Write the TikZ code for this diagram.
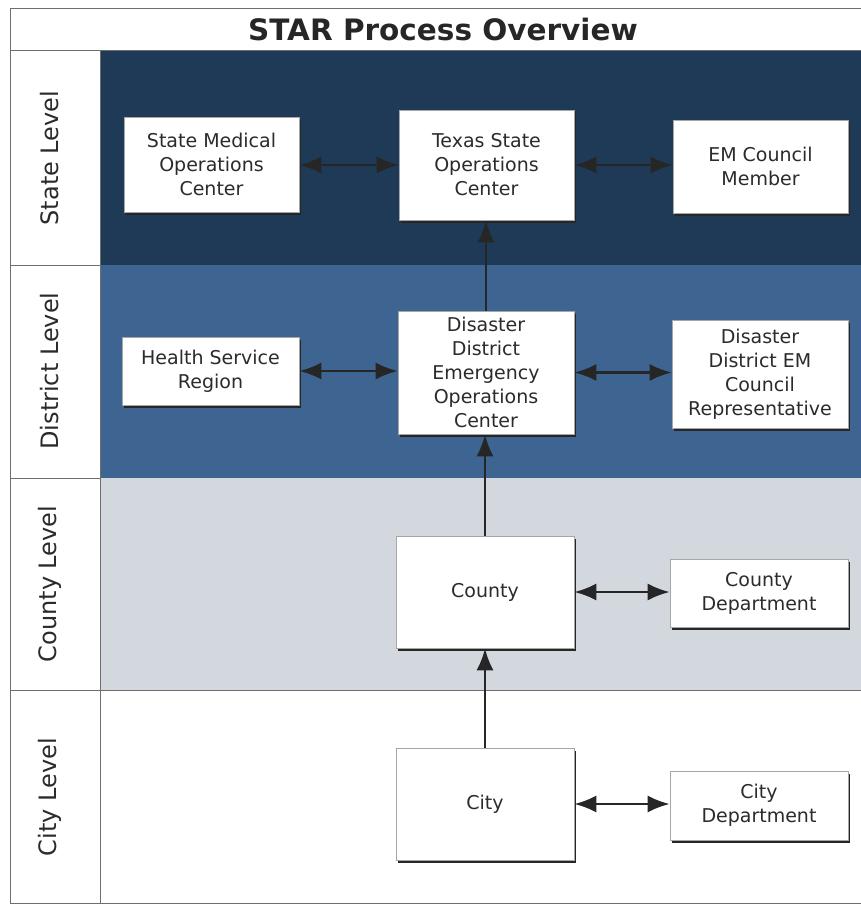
\documentclass[tikz,border=0pt]{standalone}
\usepackage{fontspec}
\setmainfont{DejaVu Sans}
\usetikzlibrary{arrows.meta,shadows}
\definecolor{stateblue}{HTML}{1F3A56}
\definecolor{distblue}{HTML}{3E6591}
\definecolor{countygray}{HTML}{D3D8DF}
\definecolor{framegray}{HTML}{6E6E6E}
\definecolor{txtgray}{HTML}{2B2B2B}
\begin{document}
\begin{tikzpicture}[x=1pt,y=-1pt,
  boxx/.style={draw=gray!70, line width=0.6pt, fill=white, align=center, inner sep=1pt,
    font=\fontsize{19}{24}\selectfont, text=txtgray,
    general shadow={fill=black!85, shadow xshift=2pt, shadow yshift=-2.5pt}},
  lvl/.style={rotate=90, font=\fontsize{24}{28}\selectfont, text=txtgray},
  conn/.style={line width=2.6pt, draw=black!85},
  tip/.tip={Latex[length=22pt,width=17pt]},
  dbl/.style={conn, tip-tip},
  sgl/.style={conn, -tip}]
\useasboundingbox (0,0) rectangle (861,906);
\fill[white] (0,0) rectangle (861,906);
% bands
\fill[stateblue] (100,50) rectangle (861,265);
\fill[distblue] (100,265) rectangle (861,478);
\fill[countygray] (100,478) rectangle (861,690);
% frame
\draw[framegray, line width=1pt] (861,8) -- (10,8) -- (10,903) -- (861,903);
\draw[framegray, line width=1pt] (10,50) -- (861,50);
\draw[framegray, line width=1pt] (100,50) -- (100,903);
\draw[framegray, line width=1pt] (10,265) -- (100,265);
\draw[framegray, line width=1pt] (10,478) -- (100,478);
\draw[framegray, line width=1pt] (10,690) -- (861,690);
% title
\node[font=\bfseries\fontsize{29.5}{32}\selectfont, text=black!85] (title) at (443,29) {STAR Process Overview};
% level labels
\node[lvl] (lstate) at (50,158) {State Level};
\node[lvl] (ldist) at (50,371) {District Level};
\node[lvl] (lcounty) at (50,584) {County Level};
\node[lvl] (lcity) at (50,797) {City Level};
% boxes
\node[boxx, minimum width=175pt, minimum height=95pt] (smoc) at (211.5,164.5) {State Medical\\Operations\\Center};
\node[boxx, minimum width=175pt, minimum height=110pt] (tsoc) at (486.5,165) {Texas State\\Operations\\Center};
\node[boxx, minimum width=175pt, minimum height=93pt] (emc) at (760.5,166.5) {EM Council\\Member};
\node[boxx, minimum width=177pt, minimum height=68pt] (hsr) at (210.5,371) {Health Service\\Region};
\node[boxx, minimum width=176pt, minimum height=123pt] (ddeoc) at (486,372.5) {Disaster\\District\\Emergency\\Operations\\Center};
\node[boxx, minimum width=176pt, minimum height=108pt] (ddemc) at (760,374) {Disaster\\District EM\\Council\\Representative};
\node[boxx, minimum width=178pt, minimum height=112pt] (county) at (485,592) {County};
\node[boxx, minimum width=178pt, minimum height=68pt] (countyd) at (759,593) {County\\Department};
\node[boxx, minimum width=178pt, minimum height=112pt] (city) at (485,804) {City};
\node[boxx, minimum width=178pt, minimum height=69pt] (cityd) at (759,805.5) {City\\Department};
% connectors
\draw[dbl] (smoc.east |- tsoc.center) -- (tsoc.west);
\draw[dbl] (tsoc.east) -- (tsoc.east -| emc.west);
\draw[dbl] (hsr.east) -- (hsr.east -| ddeoc.west);
\draw[dbl] (ddeoc.east) -- (ddeoc.east -| ddemc.west);
\draw[dbl] (county.east) -- (county.east -| countyd.west);
\draw[dbl] (city.east) -- (city.east -| cityd.west);
\draw[sgl] (city.north) -- (county.south);
\draw[sgl] (county.north) -- (ddeoc.south -| county.north);
\draw[sgl] (ddeoc.north) -- (tsoc.south -| ddeoc.north);
\end{tikzpicture}
\end{document}
